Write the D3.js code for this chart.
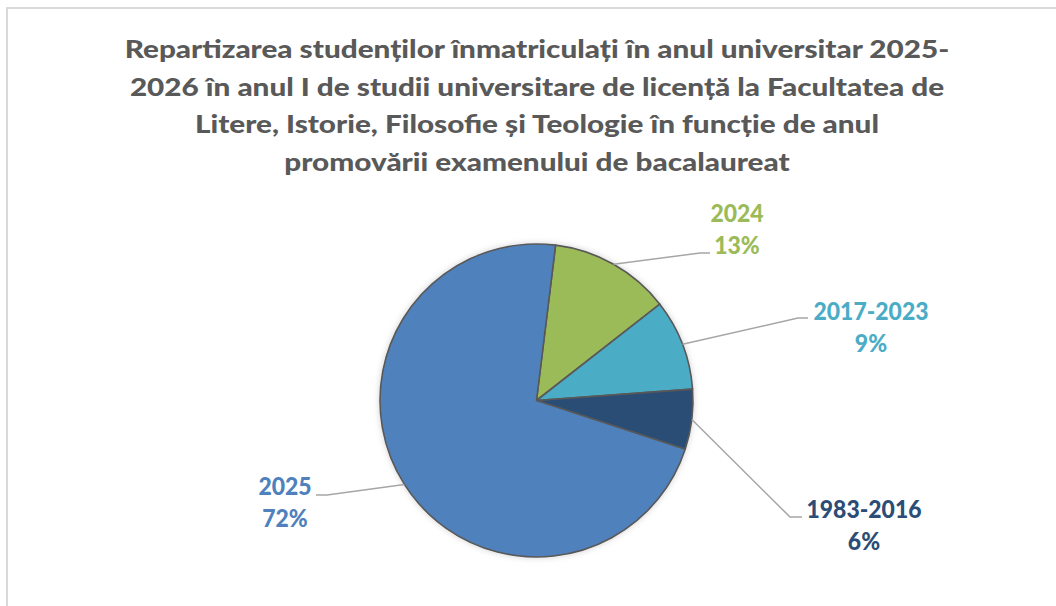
<!DOCTYPE html>
<html>
<head>
<meta charset="utf-8">
<script src="https://cdn.jsdelivr.net/npm/d3@7"></script>
<style>
  body { margin: 0; background: #fff; }
  svg { display: block; }
</style>
</head>
<body>
<svg id="chart"></svg>
<script>
var width = 1056;
var height = 606;

// data (slice shares, %)
var categories = ["2024", "2017-2023", "1983-2016", "2025"];
var shares = [12.5, 9.4, 6.2, 71.9];
var percentLabels = ["13%", "9%", "6%", "72%"];
var colors = ["#9BBB59", "#4BACC6", "#2C4D75", "#4F81BD"];

var titleLines = [
  "Repartizarea studenților înmatriculați în anul universitar 2025-",
  "2026 în anul I de studii universitare de licență la Facultatea de",
  "Litere, Istorie, Filosofie și Teologie în funcție de anul",
  "promovării examenului de bacalaureat"
];

// layout
var cx = 536.5, cy = 400.5, radius = 156.5;
var startDeg = 7;
var font = "Lato, 'Open Sans', sans-serif";
// where each leader line bends and where its label sits
var labelPos = {
  "2024":      { elbow: [700, 253], end: [710, 253], tx: 737, ty: 222 },
  "2017-2023": { elbow: [798, 318], end: [808, 318], tx: 871, ty: 320 },
  "1983-2016": { elbow: [790, 517], end: [802, 517], tx: 864, ty: 518 },
  "2025":      { elbow: [327, 495], end: [316, 495], tx: 285, ty: 495 }
};

var data = categories.map((c, i) => ({ cat: c, value: shares[i], pct: percentLabels[i], color: colors[i] }));

var svg = d3.select("#chart")
  .attr("width", width)
  .attr("height", height)
  .attr("viewBox", [0, 0, width, height]);

// chart frame
svg.append("rect")
  .attr("x", 7).attr("y", 8)
  .attr("width", width + 10).attr("height", height + 10)
  .attr("fill", "none")
  .attr("stroke", "#D9D9D9")
  .attr("stroke-width", 2);

// horizontal squeeze so Lato takes the width of the narrower original face
function squeeze(str, size, target) {
  var t = svg.append("text").attr("font-family", font).attr("font-weight", "bold")
    .attr("font-size", size).text(str);
  var w = t.node().getComputedTextLength();
  t.remove();
  return target / w;
}

///////////////////////////////////////////////////////////////
// title
var titleSize = 25;
var titleSx = squeeze(titleLines[0], titleSize, 819);
svg.append("g")
  .selectAll("text")
  .data(titleLines)
  .join("text")
    .attr("transform", (d, i) => "translate(537," + (58 + i * 37.5) + ") scale(" + titleSx + ",1)")
    .attr("text-anchor", "middle")
    .attr("font-family", font)
    .attr("font-weight", "900")
    .attr("font-size", titleSize)
    .attr("fill", "#595959")
    .text(d => d);

///////////////////////////////////////////////////////////////
// pie
var defs = svg.append("defs");
var shadow = defs.append("filter").attr("id", "shadow")
  .attr("x", "-20%").attr("y", "-20%").attr("width", "140%").attr("height", "140%");
shadow.append("feDropShadow")
  .attr("dx", 0).attr("dy", 0)
  .attr("stdDeviation", 3)
  .attr("flood-color", "#000")
  .attr("flood-opacity", 0.18);

var start = startDeg * Math.PI / 180;
var pie = d3.pie()
  .value(d => d.value)
  .sort(null)
  .startAngle(start)
  .endAngle(start + 2 * Math.PI);

var arc = d3.arc().innerRadius(0).outerRadius(radius);
var edgeArc = d3.arc().innerRadius(radius).outerRadius(radius);

var arcs = pie(data);

var pieG = svg.append("g")
  .attr("transform", "translate(" + cx + "," + cy + ")");

pieG.append("g")
  .attr("filter", "url(#shadow)")
  .selectAll("path")
  .data(arcs)
  .join("path")
    .attr("d", arc)
    .attr("fill", d => d.data.color)
    .attr("stroke", "#595959")
    .attr("stroke-width", 1.6)
    .attr("stroke-linejoin", "round");

///////////////////////////////////////////////////////////////
// leader lines
svg.append("g")
  .selectAll("polyline")
  .data(arcs)
  .join("polyline")
    .attr("points", d => {
      var c = edgeArc.centroid(d);
      var p = labelPos[d.data.cat];
      return [[cx + c[0], cy + c[1]], p.elbow, p.end].map(q => q.join(",")).join(" ");
    })
    .attr("fill", "none")
    .attr("stroke", "#A6A6A6")
    .attr("stroke-width", 1.5);

///////////////////////////////////////////////////////////////
// labels
var labelSize = 24;
var labelSx = squeeze("2017-2023", labelSize, 115);
var labels = svg.append("g")
  .selectAll("g")
  .data(arcs)
  .join("g")
    .attr("transform", d => "translate(" + labelPos[d.data.cat].tx + "," + labelPos[d.data.cat].ty + ") scale(" + labelSx + ",1)");

labels.append("text")
  .attr("text-anchor", "middle")
  .attr("font-family", font)
  .attr("font-weight", "900")
  .attr("font-size", labelSize)
  .attr("fill", d => d.data.color)
  .text(d => d.data.cat);

labels.append("text")
  .attr("y", 32)
  .attr("text-anchor", "middle")
  .attr("font-family", font)
  .attr("font-weight", "900")
  .attr("font-size", labelSize)
  .attr("fill", d => d.data.color)
  .text(d => d.data.pct);
</script>
</body>
</html>
